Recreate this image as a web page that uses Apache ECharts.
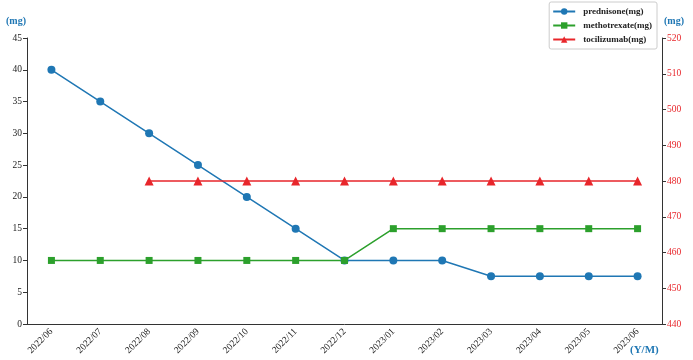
<!DOCTYPE html>
<html>
<head>
<meta charset="utf-8">
<script src="https://cdn.jsdelivr.net/npm/echarts@6/dist/echarts.min.js"></script>
<style>
  html, body { margin: 0; padding: 0; background: #fff; }
  #chart { width: 693px; height: 360px; }
</style>
</head>
<body>
<div id="chart"></div>
<script>
const months = ['2022/06', '2022/07', '2022/08', '2022/09', '2022/10', '2022/11', '2022/12',
  '2023/01', '2023/02', '2023/03', '2023/04', '2023/05', '2023/06'];
const prednisone = [40, 35, 30, 25, 20, 15, 10, 10, 10, 7.5, 7.5, 7.5, 7.5];
const methotrexate = [10, 10, 10, 10, 10, 10, 10, 15, 15, 15, 15, 15, 15];
const tocilizumab = [null, null, 480, 480, 480, 480, 480, 480, 480, 480, 480, 480, 480];

const serif = "'Liberation Serif', 'DejaVu Serif', serif";
const blue = '#1f77b4', green = '#2ca02c', red = '#e8262b';
const axisLine = { show: true, lineStyle: { color: '#333', width: 1 } };

const chart = echarts.init(document.getElementById('chart'));
chart.setOption({
  animation: false,
  textStyle: { fontFamily: serif },
  grid: { left: 27, right: 31, top: 38, bottom: 36, outerBoundsMode: 'none', containLabel: false },
  legend: {
    orient: 'vertical',
    right: 36, top: 2,
    itemWidth: 22, itemHeight: 8, itemGap: 5,
    padding: [5, 5, 5, 3],
    borderColor: '#ccc', borderWidth: 1, borderRadius: 2,
    textStyle: { fontFamily: serif, fontWeight: 'bold', fontSize: 9, color: '#222', padding: [0, 0, 0, 3] },
    data: ['prednisone(mg)', 'methotrexate(mg)', 'tocilizumab(mg)']
  },
  graphic: [{
    type: 'text', left: 630, top: 345,
    style: { text: '(Y/M)', fill: blue, font: 'bold 11px ' + serif }
  }],
  xAxis: {
    type: 'category',
    data: months,
    boundaryGap: true,
    axisLine: axisLine,
    axisTick: { alignWithLabel: true, length: 4, lineStyle: { color: '#333' } },
    axisLabel: { rotate: 45, fontSize: 9.5, color: '#222', interval: 0, margin: 6, fontFamily: serif }
  },
  yAxis: [
    {
      type: 'value', min: 0, max: 45, interval: 5,
      axisLine: axisLine,
      axisTick: { show: true, length: 4, lineStyle: { color: '#333' } },
      splitLine: { show: false },
      axisLabel: { fontSize: 9.5, color: '#222', margin: 5, fontFamily: serif },
      name: '(mg)',
      nameGap: 12,
      nameTextStyle: { color: blue, fontWeight: 'bold', fontSize: 10, fontFamily: serif, padding: [0, 22, 0, 0] }
    },
    {
      type: 'value', min: 440, max: 520, interval: 10,
      position: 'right',
      axisLine: axisLine,
      axisTick: { show: true, length: 4, lineStyle: { color: '#333' } },
      splitLine: { show: false },
      axisLabel: { fontSize: 9.5, color: red, margin: 5, fontFamily: serif },
      name: '(mg)',
      nameGap: 12,
      nameTextStyle: { color: blue, fontWeight: 'bold', fontSize: 10, fontFamily: serif, padding: [0, 0, 0, 24] }
    }
  ],
  series: [
    {
      name: 'prednisone(mg)', type: 'line', data: prednisone, yAxisIndex: 0,
      symbol: 'circle', symbolSize: 8,
      itemStyle: { color: blue }, lineStyle: { color: blue, width: 1.5 }
    },
    {
      name: 'methotrexate(mg)', type: 'line', data: methotrexate, yAxisIndex: 0,
      symbol: 'rect', symbolSize: 7,
      itemStyle: { color: green }, lineStyle: { color: green, width: 1.5 }
    },
    {
      name: 'tocilizumab(mg)', type: 'line', data: tocilizumab, yAxisIndex: 1,
      symbol: 'triangle', symbolSize: 9,
      itemStyle: { color: red }, lineStyle: { color: red, width: 1.5 }
    }
  ]
});
</script>
</body>
</html>
